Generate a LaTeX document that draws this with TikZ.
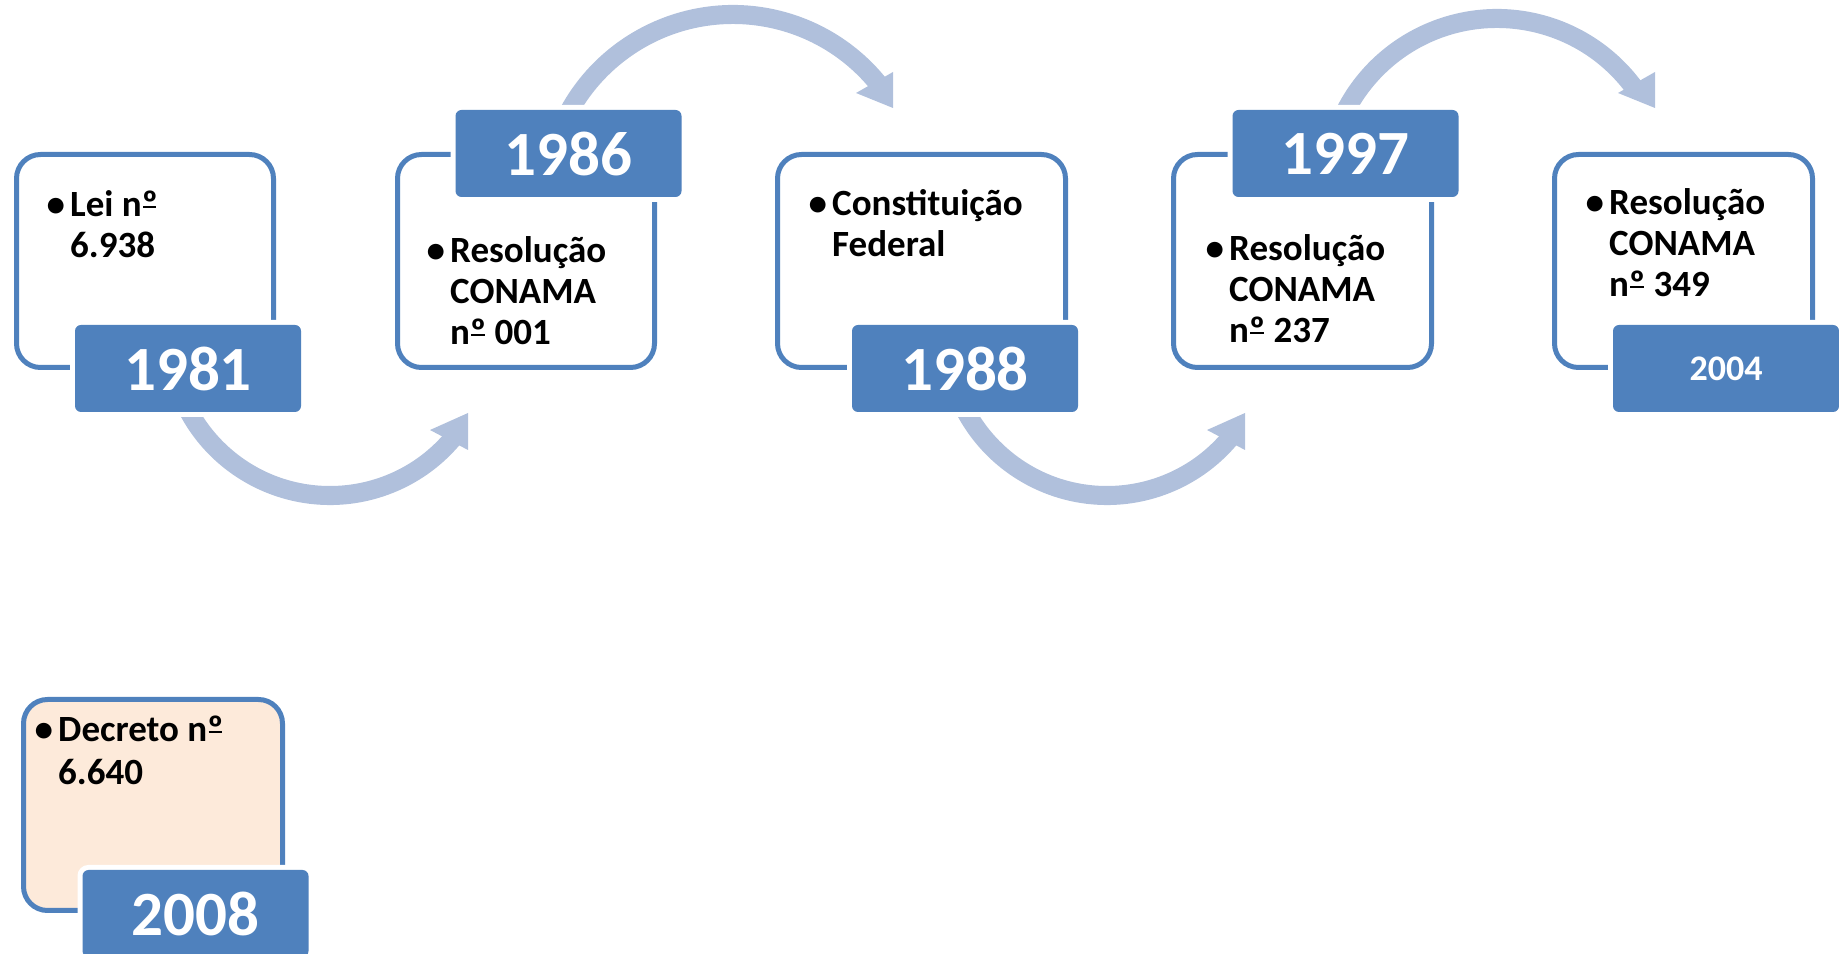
\documentclass[tikz,border=0pt]{standalone}
\usepackage{fontspec}
\setmainfont{Carlito}
\definecolor{lblblue}{RGB}{79,129,189}
\definecolor{arrowc}{RGB}{176,192,220}
\definecolor{peach}{RGB}{253,234,218}
\newcommand{\bul}[1]{\parbox[t]{320pt}{\hangindent=22pt\hangafter=1\noindent\makebox[22pt][l]{\hspace{-1.5pt}•}#1}}
\newcommand{\nord}{\ooalign{º\cr\hidewidth\rule[0.24em]{0.36em}{0.06em}\hidewidth\cr}}
\begin{document}
\begin{tikzpicture}[x=1pt,y=1pt,
  box/.style={draw=lblblue, line width=5pt, rounded corners=24pt, fill=white, minimum height=213pt, inner sep=0pt},
  yearlbl/.style={fill=lblblue, rounded corners=6pt, minimum width=226pt, minimum height=87pt, inner sep=0pt, text=white, font=\fontsize{63}{63}\selectfont\bfseries, preaction={draw=white, line width=10pt}},
  txt/.style={anchor=base west, inner sep=0pt, font=\fontsize{37}{41}\selectfont\bfseries, text=black},
  arr/.style={fill=arrowc}]
\useasboundingbox (0,0) rectangle (1839,953);

% curved arrows (drawn first, labels cover their tails)
\coordinate (c1) at (330,618);
\coordinate (c3) at (1107,618);
\coordinate (c2) at (733,751.5);
\coordinate (c4) at (1497,764.2);

\fill[arr] ([shift={(200:170)}]c1) arc[start angle=200,end angle=320,radius=170] -- ([shift={(320:151)}]c1) arc[start angle=320,end angle=200,radius=151] -- cycle;
\fill[arr] (468,540) -- (430,523) -- (468,503) -- cycle;

\fill[arr] ([shift={(200:170)}]c3) arc[start angle=200,end angle=320,radius=170] -- ([shift={(320:151)}]c3) arc[start angle=320,end angle=200,radius=151] -- cycle;
\fill[arr] (1245,540) -- (1207,523) -- (1245,503) -- cycle;

\fill[arr] ([shift={(160:196.5)}]c2) arc[start angle=160,end angle=38,radius=196.5] -- ([shift={(38:177.5)}]c2) arc[start angle=38,end angle=160,radius=177.5] -- cycle;
\fill[arr] (893,845) -- (856,860) -- (893,881) -- cycle;

\fill[arr] ([shift={(160:179.8)}]c4) arc[start angle=160,end angle=36,radius=179.8] -- ([shift={(36:160.8)}]c4) arc[start angle=36,end angle=160,radius=160.8] -- cycle;
\fill[arr] (1655,845) -- (1618,860) -- (1655,881) -- cycle;

% boxes
\node[box, minimum width=257pt] (b1) at (145,692) {};
\node[box, minimum width=257pt] (b2) at (526,692) {};
\node[box, minimum width=288pt] (b3) at (921.5,692) {};
\node[box, minimum width=258pt] (b4) at (1302.5,692) {};
\node[box, minimum width=258pt] (b5) at (1683.5,692) {};
\node[box, minimum width=259pt, minimum height=211pt, fill=peach] (b6) at (153,148) {};

% texts
\node[txt] (t1) at (48,736) {\bul{Lei n\nord\\6.938}};
\node[txt] (t2) at (428,690) {\bul{Resolução\\CONAMA\\n\nord{} 001}};
\node[txt] (t3) at (810,737) {\bul{Constituição\\Federal}};
\node[txt] (t4) at (1207,692) {\bul{Resolução\\CONAMA\\n\nord{} 237}};
\node[txt] (t5) at (1587,738) {\bul{Resolução\\CONAMA\\n\nord{} 349}};
\node[txt, font=\fontsize{37}{43}\selectfont\bfseries] (t6) at (36,211) {\bul{Decreto n\nord\\6.640}};

% year labels
\node[yearlbl] (y1) at (188,584.5) {1981};
\node[yearlbl] (y2) at (568.5,799.5) {1986};
\node[yearlbl] (y3) at (965,584.5) {1988};
\node[yearlbl] (y4) at (1345.5,799.5) {1997};
\node[yearlbl, font=\fontsize{36}{36}\selectfont\bfseries] (y5) at (1726,584.5) {2004};
\node[yearlbl] (y6) at (195.5,39.5) {2008};
\end{tikzpicture}
\end{document}
